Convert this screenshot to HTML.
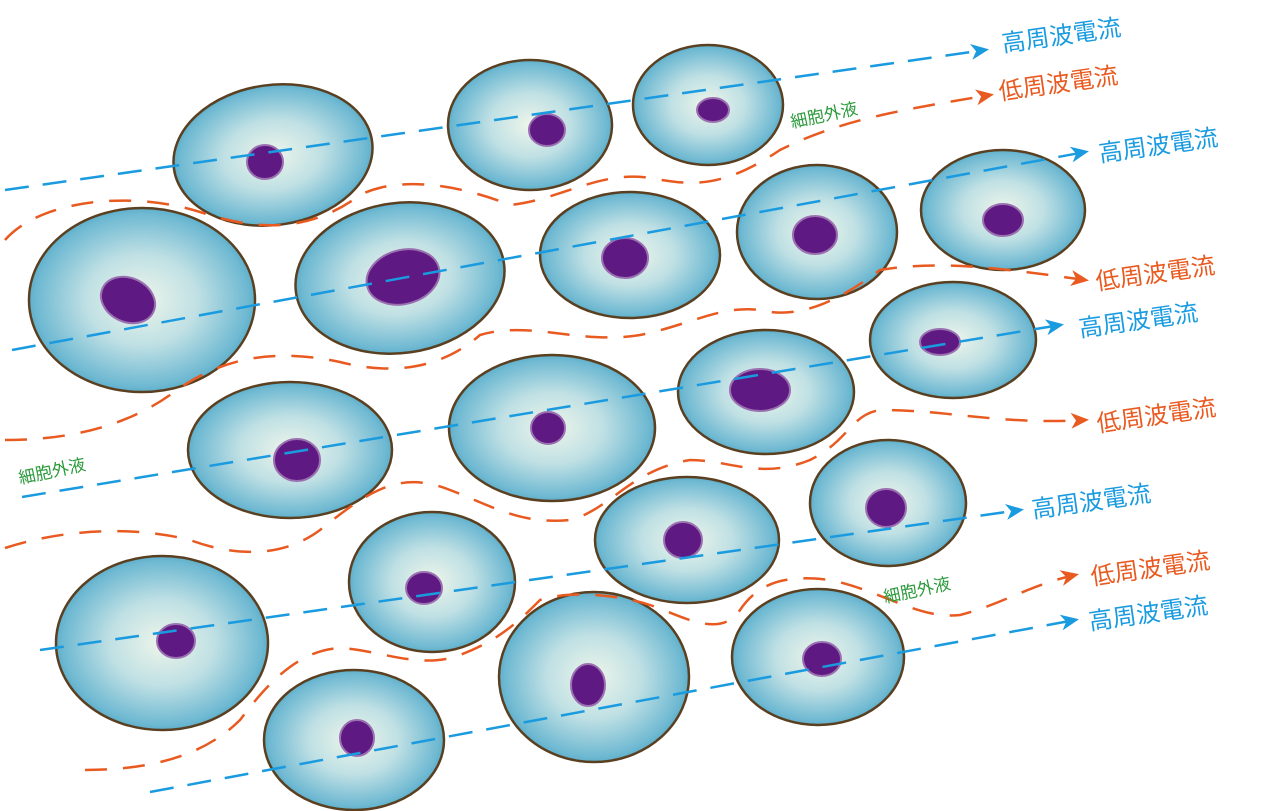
<!DOCTYPE html>
<html><head><meta charset="utf-8"><style>
html,body{margin:0;padding:0;background:#fff;width:1268px;height:811px;overflow:hidden}
svg{display:block}
.hf{font-family:"Liberation Sans","Noto Sans CJK JP",sans-serif;font-size:24px;fill:#1a9be0}
.lf{font-family:"Liberation Sans","Noto Sans CJK JP",sans-serif;font-size:24px;fill:#e85a20}
.ef{font-family:"Liberation Sans","Noto Sans CJK JP",sans-serif;font-size:17px;fill:#2a9a3a}
</style></head><body>
<svg width="1268" height="811" viewBox="0 0 1268 811" xmlns="http://www.w3.org/2000/svg">
<defs>
<radialGradient id="g" cx="50%" cy="50%" r="55%">
<stop offset="0" stop-color="#eef5ea"/><stop offset="0.45" stop-color="#bfe0e4"/><stop offset="0.85" stop-color="#6fb9d2"/><stop offset="1" stop-color="#45a0c2"/>
</radialGradient>
<marker id="ab" markerWidth="18" markerHeight="16" refX="14" refY="8" orient="auto" markerUnits="userSpaceOnUse"><path d="M0,0 L18,8 L0,16 L5,8 z" fill="#1a9be0"/></marker>
<marker id="ao" markerWidth="18" markerHeight="16" refX="14" refY="8" orient="auto" markerUnits="userSpaceOnUse"><path d="M0,0 L18,8 L0,16 L5,8 z" fill="#e85a20"/></marker>
</defs>
<g stroke="#5a4020" stroke-width="2.5" fill="url(#g)">
<ellipse cx="273" cy="155" rx="100" ry="70" transform="rotate(-8 273 155)"/>
<ellipse cx="530" cy="125" rx="82" ry="65"/>
<ellipse cx="708" cy="105" rx="75" ry="60"/>
<ellipse cx="142" cy="300" rx="113" ry="92"/>
<ellipse cx="400" cy="278" rx="105" ry="75" transform="rotate(-8 400 278)"/>
<ellipse cx="630" cy="255" rx="90" ry="63"/>
<ellipse cx="817" cy="232" rx="80" ry="67"/>
<ellipse cx="1003" cy="210" rx="82" ry="60"/>
<ellipse cx="953" cy="340" rx="83" ry="58"/>
<ellipse cx="766" cy="392" rx="88" ry="62"/>
<ellipse cx="290" cy="450" rx="102" ry="68"/>
<ellipse cx="552" cy="428" rx="103" ry="73"/>
<ellipse cx="888" cy="503" rx="78" ry="63"/>
<ellipse cx="687" cy="540" rx="92" ry="63"/>
<ellipse cx="432" cy="582" rx="83" ry="70"/>
<ellipse cx="162" cy="643" rx="106" ry="87"/>
<ellipse cx="594" cy="677" rx="95" ry="85"/>
<ellipse cx="818" cy="657" rx="86" ry="68"/>
<ellipse cx="354" cy="740" rx="90" ry="70"/>
</g>
<g fill="#5e1a82" stroke="#9a70b0" stroke-width="2">
<ellipse cx="265" cy="162" rx="18" ry="17"/>
<ellipse cx="547" cy="130" rx="18" ry="16"/>
<ellipse cx="713" cy="110" rx="16" ry="12"/>
<ellipse cx="128" cy="300" rx="28" ry="22" transform="rotate(25 128 300)"/>
<ellipse cx="403" cy="277" rx="37" ry="27" transform="rotate(-15 403 277)"/>
<ellipse cx="625" cy="258" rx="23" ry="20"/>
<ellipse cx="815" cy="235" rx="22" ry="19"/>
<ellipse cx="1003" cy="220" rx="20" ry="16"/>
<ellipse cx="940" cy="342" rx="20" ry="13"/>
<ellipse cx="760" cy="390" rx="30" ry="21"/>
<ellipse cx="297" cy="460" rx="23" ry="21"/>
<ellipse cx="548" cy="428" rx="17" ry="16"/>
<ellipse cx="886" cy="508" rx="20" ry="19"/>
<ellipse cx="683" cy="540" rx="19" ry="18"/>
<ellipse cx="424" cy="588" rx="18" ry="16"/>
<ellipse cx="176" cy="641" rx="19" ry="17"/>
<ellipse cx="588" cy="685" rx="17" ry="21"/>
<ellipse cx="822" cy="659" rx="19" ry="17"/>
<ellipse cx="357" cy="738" rx="17" ry="18"/>
</g>
<g fill="none" stroke="#1a9be0" stroke-width="2.5" stroke-dasharray="24 14">
<line x1="5" y1="190" x2="985" y2="50" marker-end="url(#ab)"/>
<line x1="12" y1="350" x2="1085" y2="152" marker-end="url(#ab)"/>
<line x1="22" y1="497" x2="1060" y2="325" marker-end="url(#ab)"/>
<line x1="40" y1="650" x2="1020" y2="510" marker-end="url(#ab)"/>
<line x1="150" y1="792" x2="1075" y2="620" marker-end="url(#ab)"/>
</g>
<g fill="none" stroke="#e85a20" stroke-width="2.5" stroke-dasharray="22 16">
<path d="M5,240 C40,200 130,190 200,212 C240,225 300,240 360,195 C400,175 460,185 510,205 C560,200 600,170 650,178 C690,185 720,190 780,150 C840,120 900,110 990,95" marker-end="url(#ao)"/>
<path d="M5,440 C60,440 120,430 170,395 C210,365 260,345 340,362 C390,375 440,370 480,335 C530,320 580,345 640,335 C690,325 720,305 760,310 C800,320 840,300 880,270 C940,260 1000,268 1085,280" marker-end="url(#ao)"/>
<path d="M5,548 C60,530 130,525 190,540 C230,555 280,560 320,530 C370,490 400,470 450,490 C490,505 520,525 570,520 C610,510 630,470 690,460 C730,460 760,480 810,460 C850,440 850,415 880,410 C950,410 1000,425 1085,420" marker-end="url(#ao)"/>
<path d="M85,770 C140,770 200,760 240,720 C270,680 300,650 340,648 C380,650 420,670 460,655 C500,640 520,620 540,600 C570,590 620,595 650,605 C680,615 720,640 740,610 C760,580 790,575 830,580 C880,590 920,620 960,615 C1000,605 1030,585 1075,575" marker-end="url(#ao)"/>
</g>
<text class="hf" x="1003" y="52" transform="rotate(-8 1003 52)">高周波電流</text>
<text class="lf" x="1000" y="100" transform="rotate(-8 1000 100)">低周波電流</text>
<text class="hf" x="1100" y="162" transform="rotate(-8 1100 162)">高周波電流</text>
<text class="lf" x="1097" y="290" transform="rotate(-8 1097 290)">低周波電流</text>
<text class="hf" x="1080" y="337" transform="rotate(-8 1080 337)">高周波電流</text>
<text class="lf" x="1098" y="432" transform="rotate(-8 1098 432)">低周波電流</text>
<text class="hf" x="1033" y="518" transform="rotate(-8 1033 518)">高周波電流</text>
<text class="lf" x="1092" y="585" transform="rotate(-8 1092 585)">低周波電流</text>
<text class="hf" x="1090" y="630" transform="rotate(-8 1090 630)">高周波電流</text>
<text class="ef" x="792" y="128" transform="rotate(-12 792 128)">細胞外液</text>
<text class="ef" x="20" y="484" transform="rotate(-12 20 484)">細胞外液</text>
<text class="ef" x="885" y="603" transform="rotate(-12 885 603)">細胞外液</text>
</svg>
</body></html>
